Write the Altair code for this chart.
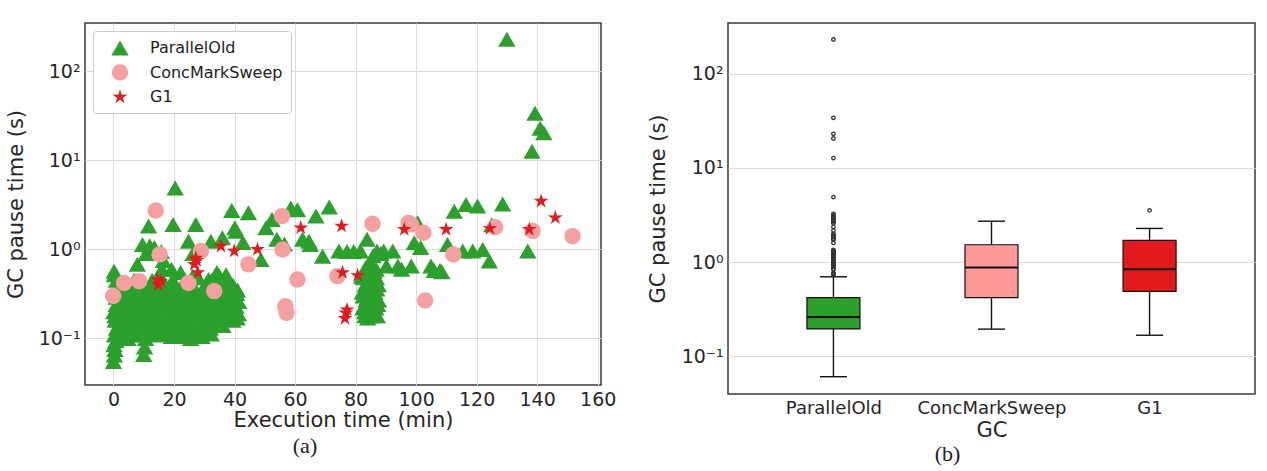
import altair as alt
import pandas as pd

GROUPS = ["ParallelOld", "ConcMarkSweep", "G1"]

# ---------------- scatter data (a) ----------------
po_time = [
    130.0, 139.3, 141.0, 142.2, 138.3, 20.4, 136.9, 11.6, 19.7, 27.2, 39.1, 44.6, 40.1,
    9.6, 12.0, 7.9, 0.2, 24.8, 32.2, 36.0, 40.5, 42.8, 48.7, 50.4, 52.4, 54.0, 58.6, 60.8,
    62.5, 64.6, 66.9, 69.1, 71.3, 74.5, 77.2, 79.4, 81.6, 83.8, 87.1, 89.3, 88.4, 92.3,
    90.2, 94.0, 95.2, 98.4, 99.4, 100.5, 101.5, 104.9, 106.0, 107.9, 108.5, 110.4, 112.6,
    115.4, 116.5, 118.7, 120.3, 122.0, 124.2, 125.0, 128.6, 56.5, 65.0, 13.5, 15.8, 26.3,
    # dense cluster 0-17 min
    0.0, 0.3, 0.5, 0.2, 0.8, 0.4, 1.0, 0.6, 0.1, 0.9, 0.3, 1.5, 2.0, 2.5, 3.0, 3.5, 4.0,
    4.5, 5.0, 5.5, 6.0, 6.5, 7.0, 7.5, 8.0, 8.5, 9.0, 9.5, 10.0, 10.3, 10.6, 11.0, 11.5,
    12.0, 12.5, 13.0, 13.5, 14.0, 14.5, 15.0, 15.5, 16.0, 16.5, 2.2, 3.8, 5.2, 6.8, 1.2,
    8.8, 12.8, 15.2, 16.2, 17.0, 1.0, 3.0, 10.8, 4.8, 7.2, 11.2, 13.8,
    0.8, 3.1, 5.4, 8.2, 10.9, 13.3, 16.1,
    1.9, 4.3, 6.9, 9.2, 12.1, 14.6, 17.2,
    0.5, 2.8, 5.7, 8.1, 10.4, 13.0, 15.8,
    1.6, 4.4, 6.6, 9.3, 11.9, 14.2, 16.9,
    0.9, 3.3, 5.9, 8.6, 10.7, 13.6, 15.9,
    2.1, 4.7, 9.8, 11.5, 14.9, 16.6,
    # dense cluster 18-30 min
    18.0, 18.5, 19.0, 19.5, 20.0, 20.5, 21.0, 21.5, 22.0, 22.5, 23.0, 23.5, 24.0, 24.5,
    25.0, 25.5, 26.0, 26.5, 27.0, 27.5, 28.0, 28.5, 29.0, 29.5, 30.0, 19.2, 22.2, 26.2,
    20.8, 23.8, 27.8,
    19.1, 21.6, 24.2, 26.8, 29.3,
    18.2, 20.7, 23.1, 25.7, 28.2,
    19.4, 21.9, 24.6, 27.1, 29.6,
    18.6, 21.0, 23.5, 26.1, 28.7,
    19.8, 22.4, 25.1, 27.5, 30.1,
    18.9, 21.3, 23.9, 26.4, 29.0,
    20.3, 22.8, 25.4,
    # dense cluster 30-41 min
    30.5, 31.0, 31.5, 32.0, 32.3, 32.5, 33.0, 33.5, 34.0, 34.5, 35.0, 35.5, 36.0, 36.5,
    37.0, 37.5, 38.0, 38.5, 39.0, 39.5, 40.0, 40.5, 41.0, 41.3, 34.2, 37.2, 31.8, 36.2,
    31.2, 33.7, 36.3, 38.8, 40.9,
    30.4, 32.9, 35.4, 37.9, 40.3,
    31.6, 34.1, 36.7, 39.2, 41.4,
    30.8, 33.3, 35.8, 38.4, 40.7,
    32.1, 34.6, 37.1, 39.6,
    31.4, 33.9, 36.4,
    # dense cluster 82-88 min
    82.0, 82.5, 83.0, 83.3, 83.6, 84.0, 84.3, 84.6, 85.0, 85.3, 85.6, 86.0, 86.3, 86.6,
    87.0, 87.3, 84.8, 85.8, 86.8, 83.8, 85.2, 86.2,
    83.1, 85.4, 87.2, 82.4, 84.5, 86.7, 83.5, 85.9, 87.6, 82.2, 84.2, 86.4,
    83.2, 85.6, 87.5, 82.6, 84.7, 86.9, 83.9, 86.1,
]
po_pause = [
    230, 34, 23, 20.5, 12.7, 4.9, 0.96, 1.83, 1.91, 1.91, 2.74, 2.58, 1.75,
    1.14, 1.1, 0.68, 0.57, 1.24, 1.24, 1.35, 1.6, 1.2, 0.77, 1.75, 2.17, 1.3, 2.93, 2.8,
    1.3, 1.24, 2.37, 0.84, 2.99, 0.96, 0.95, 0.95, 0.96, 1.3, 0.96, 0.96, 0.9, 0.96,
    0.65, 0.65, 0.6, 0.65, 1.19, 2.0, 1.05, 0.65, 0.58, 0.58, 0.56, 1.14, 2.69,
    0.96, 3.2, 0.96, 3.07, 1.0, 0.74, 1.9, 3.25, 1.15, 1.14, 1.05, 0.95, 0.9,
    0.055, 0.065, 0.075, 0.085, 0.095, 0.11, 0.13, 0.16, 0.2, 0.24, 0.52, 0.12, 0.15, 0.11, 0.18, 0.14, 0.22,
    0.12, 0.17, 0.27, 0.13, 0.2, 0.32, 0.15, 0.24, 0.11, 0.19, 0.29, 0.066, 0.08, 0.1, 0.14, 0.23,
    0.35, 0.18, 0.28, 0.12, 0.4, 0.22, 0.3, 0.5, 0.6, 0.75, 0.3, 0.35, 0.4, 0.45, 0.3,
    0.38, 0.45, 0.15, 0.25, 0.35, 0.45, 0.26, 0.9, 0.1, 0.12, 0.16, 0.13,
    0.11, 0.11, 0.11, 0.11, 0.11, 0.11, 0.11,
    0.14, 0.14, 0.14, 0.14, 0.14, 0.14, 0.14,
    0.18, 0.18, 0.18, 0.18, 0.18, 0.18, 0.18,
    0.23, 0.23, 0.23, 0.23, 0.23, 0.23, 0.23,
    0.29, 0.29, 0.29, 0.29, 0.29, 0.29, 0.29,
    0.36, 0.36, 0.36, 0.36, 0.36, 0.36,
    0.2, 0.13, 0.3, 0.45, 0.16, 0.25, 0.11, 0.35, 0.19, 0.28, 0.13, 0.42, 0.22, 0.15,
    0.32, 0.1, 0.24, 0.38, 0.17, 0.28, 0.48, 0.2, 0.33, 0.14, 0.25, 0.6, 0.55, 0.5,
    0.12, 0.14, 0.11,
    0.105, 0.105, 0.105, 0.105, 0.105,
    0.13, 0.13, 0.13, 0.13, 0.13,
    0.165, 0.165, 0.165, 0.165, 0.165,
    0.21, 0.21, 0.21, 0.21, 0.21,
    0.26, 0.26, 0.26, 0.26, 0.26,
    0.33, 0.33, 0.33, 0.33, 0.33,
    0.4, 0.4, 0.4,
    0.4, 0.18, 0.3, 0.13, 0.112, 0.45, 0.22, 0.35, 0.16, 0.28, 0.5, 0.2, 0.38, 0.25,
    0.17, 0.45, 0.3, 0.21, 0.4, 0.16, 0.3, 0.23, 0.35, 0.19, 0.55, 0.52, 0.15, 0.14,
    0.17, 0.17, 0.17, 0.17, 0.17,
    0.21, 0.21, 0.21, 0.21, 0.21,
    0.26, 0.26, 0.26, 0.26, 0.26,
    0.32, 0.32, 0.32, 0.32, 0.32,
    0.39, 0.39, 0.39, 0.39,
    0.46, 0.46, 0.46,
    0.5, 0.3, 0.2, 0.62, 0.25, 0.17, 0.4, 0.22, 0.55, 0.18, 0.33, 0.27, 0.19, 0.45,
    0.36, 0.24, 0.7, 0.85, 0.6, 0.28, 0.45, 0.37,
    0.18, 0.18, 0.18, 0.22, 0.22, 0.22, 0.27, 0.27, 0.27, 0.33, 0.33, 0.33,
    0.4, 0.4, 0.4, 0.48, 0.48, 0.48, 0.57, 0.57,
]

cms_time = [-0.1, 3.5, 8.5, 14.0, 15.3, 24.8, 28.9, 33.3, 44.6, 55.7, 55.9, 56.8, 57.2,
            60.8, 74.0, 85.6, 97.5, 98.3, 102.4, 103.0, 112.3, 126.1, 138.5, 151.7]
cms_pause = [0.30, 0.42, 0.44, 2.74, 0.88, 0.42, 0.96, 0.34, 0.68, 2.37, 1.0, 0.23, 0.194,
             0.46, 0.50, 1.94, 1.99, 1.91, 1.54, 0.267, 0.88, 1.78, 1.61, 1.41]

g1_time = [14.5, 14.8, 15.6, 27.2, 26.7, 27.5, 27.9, 35.5, 39.9, 47.6, 61.9, 75.4, 75.7,
           76.8, 76.5, 77.2, 80.7, 96.1, 109.9, 124.4, 137.4, 141.3, 146.0]
g1_pause = [0.46, 0.40, 0.44, 0.80, 0.68, 0.75, 0.55, 1.09, 0.96, 1.0, 1.75, 1.83, 0.55,
            0.194, 0.168, 0.21, 0.51, 1.68, 1.68, 1.72, 1.68, 3.49, 2.27]

# ---------------- box plot statistics (b) ----------------
box_lo = [0.061, 0.195, 0.168]
box_q1 = [0.196, 0.42, 0.49]
box_med = [0.263, 0.88, 0.84]
box_q3 = [0.42, 1.53, 1.70]
box_hi = [0.70, 2.72, 2.28]
g1_fliers = [3.54]

SCATTER_COLORS = ["#2ca02c", "#f5a0a0", "#e31a1c"]
BOX_COLORS = ["#2ca02c", "#fb9a99", "#e31a1c"]
MARKER_SIZES = [300, 240, 400]
STAR = ("M0,-1L0.22,-0.3L0.951,-0.309L0.355,0.115L0.588,0.809L0,0.37L-0.588,0.809"
        "L-0.355,0.115L-0.951,-0.309L-0.22,-0.3Z")

scatter_df = pd.concat([
    pd.DataFrame({"t": po_time, "p": po_pause, "gc": "ParallelOld"}),
    pd.DataFrame({"t": cms_time, "p": cms_pause, "gc": "ConcMarkSweep"}),
    pd.DataFrame({"t": g1_time, "p": g1_pause, "gc": "G1"}),
], ignore_index=True)

box_df = pd.DataFrame({"gc": GROUPS, "lo": box_lo, "q1": box_q1, "med": box_med,
                       "q3": box_q3, "hi": box_hi})
po_fliers = [v for v in po_pause if v > box_hi[0]]
flier_df = pd.DataFrame({
    "gc": ["ParallelOld"] * len(po_fliers) + ["G1"] * len(g1_fliers),
    "v": po_fliers + g1_fliers,
})

LOG_LABELS = ("datum.value >= 99 ? '10\u00b2' : datum.value >= 9 ? '10\u00b9' : "
              "datum.value >= 0.9 ? '10\u2070' : '10\u207b\u00b9'")
DECADES = [0.1, 1, 10, 100]

legend = alt.Legend(title=None, orient="none", legendX=8, legendY=8, labelFontSize=16,
                    labelFont="DejaVu Sans", labelColor="#222222", symbolSize=170,
                    rowPadding=8, padding=8, strokeColor="#cccccc", fillColor="white",
                    cornerRadius=3, labelOffset=21, symbolOffset=10, symbolStrokeWidth=0)

W1, H1 = 516, 362
left = alt.Chart(scatter_df).mark_point(filled=True, opacity=1, strokeWidth=0).encode(
    x=alt.X("t:Q", scale=alt.Scale(domain=[-9.4, 161.1], nice=False, zero=False),
            axis=alt.Axis(values=list(range(0, 161, 20)), title="Execution time (min)",
                          titleY=35, titleBaseline="middle")),
    y=alt.Y("p:Q", scale=alt.Scale(type="log", domain=[0.03, 350], nice=False),
            axis=alt.Axis(values=DECADES, labelExpr=LOG_LABELS, title="GC pause time (s)",
                          titleX=-69, titleY=H1 / 2, titleBaseline="middle")),
    color=alt.Color("gc:N", scale=alt.Scale(domain=GROUPS, range=SCATTER_COLORS), legend=legend),
    shape=alt.Shape("gc:N", scale=alt.Scale(domain=GROUPS, range=["triangle-up", "circle", STAR]),
                    legend=legend),
    size=alt.Size("gc:N", scale=alt.Scale(domain=GROUPS, range=MARKER_SIZES), legend=None),
).properties(width=W1, height=H1,
             title=alt.TitleParams("(a)", orient="bottom", anchor="middle", font="Liberation Serif",
                                   fontSize=22, fontWeight="normal", color="#222222", offset=6,
                                   dx=-38))

W2, H2 = 527, 371
xb = alt.X("gc:N", scale=alt.Scale(type="point", domain=GROUPS, padding=0.667),
           axis=alt.Axis(title="GC", labelAngle=0, labelFontSize=18, titleY=36,
                         titleBaseline="middle"))
yscale = alt.Scale(type="log", domain=[0.04, 344], nice=False)
yaxis = alt.Axis(values=DECADES, labelExpr=LOG_LABELS, title="GC pause time (s)",
                 titleX=-70, titleY=H2 / 2, titleBaseline="middle")

base = alt.Chart(box_df)
whisk_lo = base.mark_rule(color="#111111", strokeWidth=1.4).encode(
    x=xb, y=alt.Y("lo:Q", scale=yscale, axis=yaxis), y2="q1:Q")
whisk_hi = base.mark_rule(color="#111111", strokeWidth=1.4).encode(
    x=xb, y=alt.Y("q3:Q", scale=yscale), y2="hi:Q")
boxes = base.mark_bar(size=53, stroke="#111111", strokeWidth=1.2, opacity=1).encode(
    x=xb, y=alt.Y("q1:Q", scale=yscale), y2="q3:Q",
    color=alt.Color("gc:N", scale=alt.Scale(domain=GROUPS, range=BOX_COLORS), legend=None))
median = base.mark_tick(size=53, thickness=2, color="#111111", opacity=1).encode(
    x=xb, y=alt.Y("med:Q", scale=yscale))
cap_lo = base.mark_tick(size=27, thickness=1.4, color="#111111", opacity=1).encode(
    x=xb, y=alt.Y("lo:Q", scale=yscale))
cap_hi = base.mark_tick(size=27, thickness=1.4, color="#111111", opacity=1).encode(
    x=xb, y=alt.Y("hi:Q", scale=yscale))
fliers = alt.Chart(flier_df).mark_point(size=12, filled=False, color="#333333", strokeWidth=1.3,
                                        opacity=1).encode(
    x=xb, y=alt.Y("v:Q", scale=yscale))

right = alt.layer(whisk_lo, whisk_hi, boxes, median, cap_lo, cap_hi, fliers).properties(
    width=W2, height=H2,
    title=alt.TitleParams("(b)", orient="bottom", anchor="middle", font="Liberation Serif",
                          fontSize=22, fontWeight="normal", color="#222222", offset=4, dx=-44))

chart = alt.hconcat(left, right, spacing=127, bounds="flush").resolve_scale(
    color="independent", shape="independent", size="independent"
).properties(
    padding={"left": 4, "top": 22, "right": 5, "bottom": 5}, background="white"
).configure_view(stroke="#3a3a3a", strokeWidth=1.5).configure_axis(
    labelFont="DejaVu Sans", titleFont="DejaVu Sans", labelFontSize=19, titleFontSize=21,
    titleFontWeight="normal", labelColor="#262626", titleColor="#262626",
    gridColor="#dcdcdc", gridWidth=1, ticks=False, domain=False, labelPadding=5,
)

chart.save("out.html", embed_options={"renderer": "svg", "actions": False})
